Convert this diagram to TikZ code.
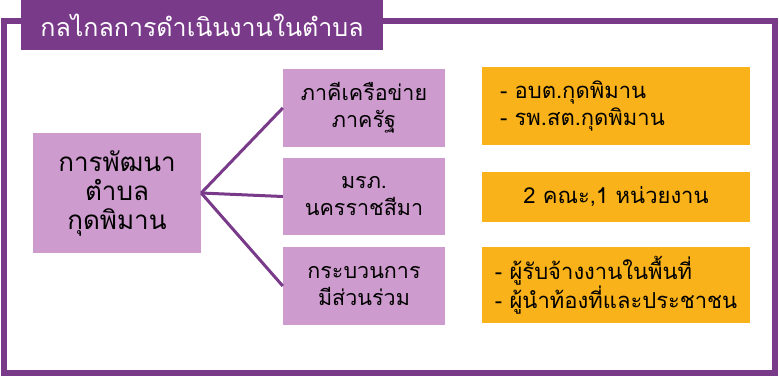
\documentclass[tikz,border=0pt]{standalone}
\usepackage{fontspec}
\newfontfamily\thaifont[Script=Thai]{Loma}
\definecolor{framePurple}{RGB}{122,58,138}
\definecolor{lightPurple}{RGB}{206,155,206}
\definecolor{boxOrange}{RGB}{250,178,26}

\begin{document}
\begin{tikzpicture}[x=1pt,y=-1pt,
    mainbox/.style={fill=lightPurple,minimum width=168pt,minimum height=120pt,align=center,font=\thaifont\fontsize{26}{29}\selectfont},
    groupbox/.style={fill=lightPurple,minimum width=162pt,minimum height=78pt,align=center,font=\thaifont\fontsize{21.5}{27}\selectfont},
    detailbox/.style={fill=boxOrange,minimum width=268pt,minimum height=77pt,align=left,font=\thaifont\fontsize{22}{27}\selectfont},
    link/.style={draw=framePurple,line width=3pt}]
        \useasboundingbox (0,0) rectangle (779,376);
        \draw[framePurple,line width=6pt] (4,21) rectangle (775,373);
        \node[fill=framePurple,text=white,minimum width=362pt,minimum height=50pt,font=\thaifont\fontsize{25}{30}\selectfont] (title) at (202,25) {กลไกลการดำเนินงานในตำบล};

        \node[mainbox] (dev) at (117,193) {การพัฒนา\\ตำบล\\กุดพิมาน};

        \node[groupbox] (net) at (364,108) {ภาคีเครือข่าย\\ภาครัฐ};
        \node[groupbox,minimum height=77pt] (uni) at (364,196.5) {มรภ.\\นครราชสีมา};
        \node[groupbox] (part) at (364,286) {กระบวนการ\\มีส่วนร่วม};

        \node[detailbox,text width=232pt,inner xsep=18pt,minimum height=78pt] (netd) at (616,106) {- อบต.กุดพิมาน\\- รพ.สต.กุดพิมาน};
        \node[detailbox,align=center,minimum height=50pt] (unid) at (616,197) {2 คณะ,1 หน่วยงาน};
        \node[detailbox,minimum height=76pt] (partd) at (616,285) {- ผู้รับจ้างงานในพื้นที่\\- ผู้นำท้องที่และประชาชน};

        \draw[link] (dev.east) -- (net.west);
        \draw[link] (dev.east) -- (uni.west);
        \draw[link] (dev.east) -- (part.west);
      \end{tikzpicture}
\end{document}
